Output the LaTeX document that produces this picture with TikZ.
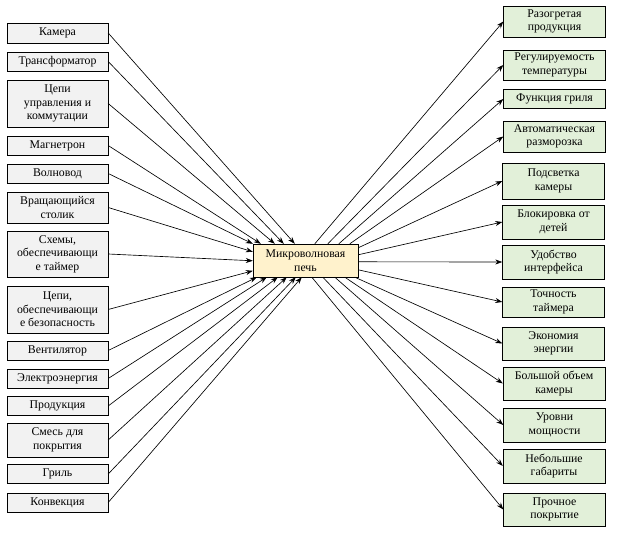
\documentclass[tikz,border=0pt]{standalone}
\usepackage{fontspec}
\setmainfont{Liberation Serif}
\usepackage{tikz}
\usetikzlibrary{arrows.meta}

\definecolor{ingray}{HTML}{F2F2F2}
\definecolor{outgreen}{HTML}{E2F0D9}
\definecolor{mainyellow}{HTML}{FFF2CC}

\tikzset{
  inbox/.style={draw, fill=ingray, minimum width=101pt, inner sep=1pt, align=center,
    font=\fontsize{11.8}{13.5}\selectfont},
  outbox/.style={draw, fill=outgreen, minimum width=102pt, inner sep=1pt, align=center,
    font=\fontsize{11.8}{13.5}\selectfont},
  mainbox/.style={draw, fill=mainyellow, minimum width=105pt, minimum height=33pt, align=center,
    inner sep=1pt, font=\fontsize{11.8}{13.5}\selectfont},
  arr/.style={-{Stealth[length=7pt,width=5pt]}, line width=0.65pt}
}

\begin{document}
\begin{tikzpicture}[x=1pt,y=-1pt]
\useasboundingbox (0,0) rectangle (618,534);

% center
\node[mainbox] (mw) at (305.5,260.5) {Микроволновая\\печь};

% inputs
\node[inbox, minimum height=20pt] (kam) at (57.5,33) {Камера};
\node[inbox, minimum height=19pt] (tra) at (57.5,61.5) {Трансформатор};
\node[inbox, minimum height=47pt] (cup) at (57.5,103.5) {Цепи\\управления и\\коммутации};
\node[inbox, minimum height=19pt] (mag) at (57.5,145.5) {Магнетрон};
\node[inbox, minimum height=19pt] (vol) at (57.5,173.5) {Волновод};
\node[inbox, minimum height=31pt] (vra) at (57.5,207.5) {Вращающийся\\столик};
\node[inbox, minimum height=46pt] (tai) at (57.5,254) {Схемы,\\обеспечивающи\\е таймер};
\node[inbox, minimum height=47pt] (bez) at (57.5,309.5) {Цепи,\\обеспечивающи\\е безопасность};
\node[inbox, minimum height=19pt] (ven) at (57.5,350.5) {Вентилятор};
\node[inbox, minimum height=19pt] (ele) at (57.5,378.5) {Электроэнергия};
\node[inbox, minimum height=19pt] (pro) at (57.5,406) {Продукция};
\node[inbox, minimum height=34pt] (sme) at (57.5,440) {Смесь для\\покрытия};
\node[inbox, minimum height=19pt] (gri) at (57.5,474) {Гриль};
\node[inbox, minimum height=19pt] (kon) at (57.5,502.5) {Конвекция};

% outputs
\node[outbox, minimum height=31pt] (raz) at (554.5,21.5) {Разогретая\\продукция};
\node[outbox, minimum height=30pt] (reg) at (554.5,65) {Регулируемость\\температуры};
\node[outbox, minimum height=19pt] (fgr) at (554.5,99) {Функция гриля};
\node[outbox, minimum height=31pt] (avt) at (554.5,136.5) {Автоматическая\\разморозка};
\node[outbox, minimum height=36pt] (pod) at (553.5,181) {Подсветка\\камеры};
\node[outbox, minimum height=34pt] (blo) at (553.5,222) {Блокировка от\\детей};
\node[outbox, minimum height=34pt] (udo) at (553.5,262) {Удобство\\интерфейса};
\node[outbox, minimum height=30pt] (toc) at (553.5,302) {Точность\\таймера};
\node[outbox, minimum height=33pt] (eko) at (553.5,343.5) {Экономия\\энергии};
\node[outbox, minimum height=33pt] (bol) at (554,383.5) {Большой объем\\камеры};
\node[outbox, minimum height=34pt] (urv) at (554.5,425) {Уровни\\мощности};
\node[outbox, minimum height=34pt] (neb) at (554,466) {Небольшие\\габариты};
\node[outbox, minimum height=33pt] (pkr) at (554.5,509.5) {Прочное\\покрытие};

% inputs -> center
\draw[arr] (kam.east) -- ([xshift=42pt]mw.north west);
\draw[arr] (tra.east) -- ([xshift=31pt]mw.north west);
\draw[arr] (cup.east) -- ([xshift=22pt]mw.north west);
\draw[arr] (mag.east) -- ([xshift=8pt]mw.north west);
\draw[arr] (vol.east) -- (mw.north west);
\draw[arr] (vra.east) -- ([yshift=-8pt]mw.north west);
\draw[arr] (tai.east) -- ([yshift=-17pt]mw.north west);
\draw[arr] (bez.east) -- ([yshift=-27pt]mw.north west);
\draw[arr] (ven.east) -- ([xshift=4pt]mw.south west);
\draw[arr] (ele.east) -- ([xshift=14pt]mw.south west);
\draw[arr] (pro.east) -- ([xshift=25pt]mw.south west);
\draw[arr] (sme.east) -- ([xshift=34pt]mw.south west);
\draw[arr] (gri.east) -- ([xshift=43pt]mw.south west);
\draw[arr] (kon.east) -- ([xshift=49pt]mw.south west);

% center -> outputs
\draw[arr] ([xshift=62pt]mw.north west) -- (raz.west);
\draw[arr] ([xshift=75pt]mw.north west) -- (reg.west);
\draw[arr] ([xshift=86pt]mw.north west) -- (fgr.west);
\draw[arr] ([xshift=97pt]mw.north west) -- (avt.west);
\draw[arr] ([yshift=-4pt]mw.north east) -- (pod.west);
\draw[arr] ([yshift=-11pt]mw.north east) -- (blo.west);
\draw[arr] ([yshift=-18pt]mw.north east) -- (udo.west);
\draw[arr] ([yshift=-26pt]mw.north east) -- (toc.west);
\draw[arr] ([xshift=102pt]mw.south west) -- (eko.west);
\draw[arr] ([xshift=92pt]mw.south west) -- (bol.west);
\draw[arr] ([xshift=82pt]mw.south west) -- (urv.west);
\draw[arr] ([xshift=70pt]mw.south west) -- (neb.west);
\draw[arr] ([xshift=59pt]mw.south west) -- (pkr.west);
\end{tikzpicture}
\end{document}
